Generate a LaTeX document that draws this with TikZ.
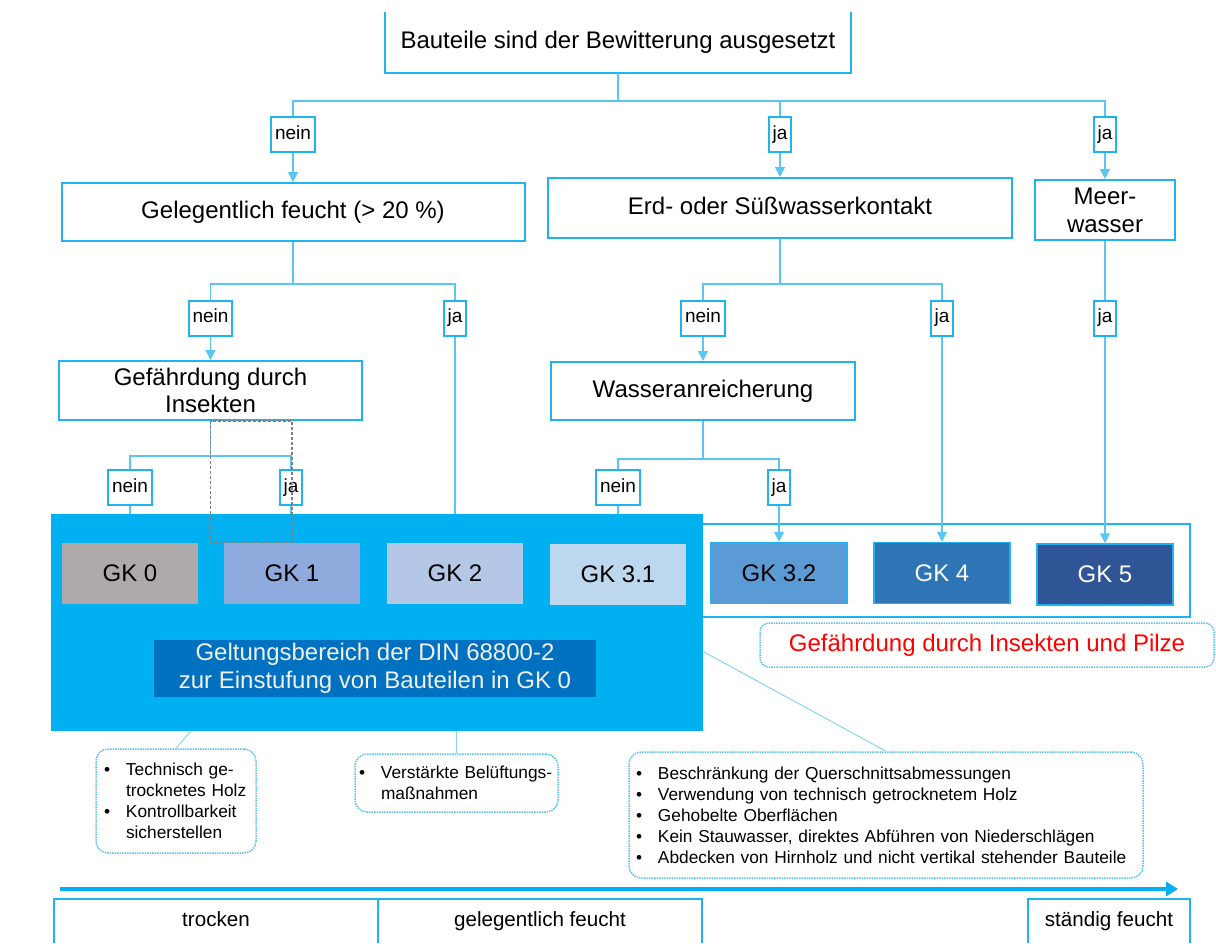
\documentclass[tikz,border=0pt]{standalone}
\usepackage{fontspec}
\setmainfont{Liberation Sans}
\usetikzlibrary{arrows.meta}

\definecolor{boxcyan}{HTML}{1FB4F0}
\definecolor{conncyan}{HTML}{5CC6F2}
\definecolor{notecyan}{HTML}{5BC0EB}
\definecolor{scopeblue}{HTML}{00B0F0}
\definecolor{geltblue}{HTML}{0070C0}
\definecolor{gkA}{HTML}{AEAAAA}
\definecolor{gkB}{HTML}{8FAADC}
\definecolor{gkC}{HTML}{B4C7E7}
\definecolor{gkD}{HTML}{BDD7EE}
\definecolor{gkE}{HTML}{5B9BD5}
\definecolor{gkF}{HTML}{2E75B6}
\definecolor{gkG}{HTML}{2F5597}

\newcommand{\pkt}{\makebox[22pt][l]{\textbullet}}
\newcommand{\weiter}{\hspace*{22pt}}

\begin{document}
\begin{tikzpicture}[x=1pt, y=-1pt, every node/.style={inner sep=0pt},
  zeile/.style={text height=17.3pt, text depth=5pt},
  frage/.style={draw=boxcyan, line width=2pt, fill=white, align=center, font=\fontsize{24}{28}\selectfont},
  antw/.style={draw=boxcyan, line width=2pt, fill=white, inner xsep=4pt, minimum height=35pt,
    text height=13.7pt, text depth=4pt, font=\fontsize{19}{22}\selectfont},
  gk/.style={minimum width=136pt, minimum height=61pt, font=\fontsize{24}{28}\selectfont},
  conn/.style={draw=conncyan, line width=1.5pt},
  arr/.style={conn, -{Triangle[length=10pt, width=10pt]}},
  notiz/.style={draw=notecyan, line width=1.5pt, densely dotted, rounded corners=12pt, align=left, font=\fontsize{17.3}{21}\selectfont},
  skala/.style={minimum height=44pt, text height=14.8pt, text depth=4.3pt, font=\fontsize{20.6}{24}\selectfont}]
\useasboundingbox (0,0) rectangle (1216,943);

% Gefaehrdungsklassen
\node[draw=boxcyan, line width=2pt, minimum width=550pt, minimum height=93pt] (pilz) at (915,570.5) {};
\node[fill=scopeblue, minimum width=652pt, minimum height=217pt] (din) at (377,622.5) {};
\node[gk, fill=gkA] (gk0) at (130,573) {GK 0};
\node[gk, fill=gkB] (gk1) at (292,573) {GK 1};
\node[gk, fill=gkC] (gk2) at (455,573) {GK 2};
\node[gk, fill=gkD] (gk31) at (618,574.5) {GK 3.1};
\node[gk, fill=gkE, draw=boxcyan, line width=1.5pt] (gk32) at (779,573) {GK 3.2};
\node[gk, fill=gkF, draw=boxcyan, line width=1.5pt, text=white] (gk4) at (942,573) {GK 4};
\node[gk, fill=gkG, draw=boxcyan, line width=1.5pt, text=white] (gk5) at (1105,574.5) {GK 5};
\node[fill=geltblue, text=white!88!gray, minimum width=442pt, minimum height=57pt, align=center,
  font=\fontsize{24}{28}\selectfont] (geltung) at (375,668.5)
  {Geltungsbereich der DIN 68800-2\\zur Einstufung von Bauteilen in GK 0};
\node[draw=notecyan, line width=1.5pt, densely dotted, rounded corners=9pt, minimum width=454pt,
  minimum height=44pt, zeile, text=red, font=\fontsize{24}{28}\selectfont] (insekten) at (987,645)
  {Gef\"ahrdung durch Insekten und Pilze};

% Entscheidungen
\node[frage, zeile, draw=none, fill=none, minimum width=464pt, minimum height=59pt] (wetter) at (618,42.5)
  {Bauteile sind der Bewitterung ausgesetzt};
\draw[draw=boxcyan, line width=2pt] (wetter.north west) |- (wetter.south east) -- (wetter.north east);
\node[frage, zeile, minimum width=463pt, minimum height=58pt] (gel) at (293,212) {Gelegentlich feucht (> 20 \%)};
\node[frage, zeile, minimum width=464pt, minimum height=60pt] (erd) at (780,208) {Erd- oder S\"u\ss wasserkontakt};
\node[frage, minimum width=140pt, minimum height=60pt] (meer) at (1105,210) {Meer-\\wasser};
\node[frage, minimum width=303pt, minimum height=59pt, font=\fontsize{24}{27}\selectfont] (gef) at (210.5,390.5)
  {Gef\"ahrdung durch\\Insekten};
\node[frage, zeile, minimum width=304pt, minimum height=58pt] (wasser) at (703,391) {Wasseranreicherung};

% Antworten
\node[antw] (a1) at (293,134.5) {nein};
\node[antw] (a2) at (780,134.5) {ja};
\node[antw] (a3) at (1105,134.5) {ja};
\node[antw] (b1) at (210.5,318) {nein};
\node[antw] (b2) at (455,318) {ja};
\node[antw] (b3) at (703,318) {nein};
\node[antw] (b4) at (942,318) {ja};
\node[antw] (b5) at (1105,318) {ja};
\node[antw] (c1) at (130,487.5) {nein};
\node[antw] (c2) at (291,487.5) {ja};
\node[antw] (c3) at (618,487.5) {nein};
\node[antw] (c4) at (779,487.5) {ja};

\draw[conn] (wetter.south) -- ++(0,28) -| (a1.north);
\draw[conn] (wetter.south) -- ++(0,28) -| (a2.north);
\draw[conn] (wetter.south) -- ++(0,28) -| (a3.north);
\draw[arr] (a1.south) -- (gel.north);
\draw[arr] (a2.south) -- (erd.north);
\draw[arr] (a3.south) -- (meer.north);
\draw[conn] (gel.south) -- ++(0,42) -| (b1.north);
\draw[conn] (gel.south) -- ++(0,42) -| (b2.north);
\draw[conn] (erd.south) -- ++(0,45) -| (b3.north);
\draw[conn] (erd.south) -- ++(0,45) -| (b4.north);
\draw[conn] (meer.south) -- (b5.north);
\draw[arr] (b1.south) -- (gef.north);
\draw[conn] (b2.south) -- (b2.south |- din.north);
\draw[arr] (b3.south) -- (wasser.north);
\draw[arr] (b4.south) -- (gk4.north);
\draw[arr] (b5.south) -- (gk5.north);
\draw[conn] (gef.south) -- ++(0,35) -| (c1.north);
\draw[conn] (gef.south) -- ++(0,35) -| (c2.north);
\draw[conn] (wasser.south) -- ++(0,38) -| (c3.north);
\draw[conn] (wasser.south) -- ++(0,38) -| (c4.north);
\draw[conn] (c1.south) -- (c1.south |- din.north);
\draw[conn] (c2.south) -- (c2.south |- din.north);
\draw[conn] (c3.south) -- (c3.south |- din.north);
\draw[arr] (c4.south) -- (gk32.north);
\draw[gray, densely dashed, line width=1.2pt] (gef.south) rectangle (gk1.north);

% Massnahmen
\node[notiz, text width=144pt, inner xsep=8pt, minimum height=104pt] (notizA) at (176,801)
  {\pkt Technisch ge-\\\weiter trocknetes Holz\\\pkt Kontrollbarkeit\\\weiter sicherstellen};
\node[notiz, text width=195pt, inner xsep=4pt, minimum height=58pt] (notizB) at (456.5,783)
  {\pkt Verst\"arkte Bel\"uftungs-\\\weiter ma\ss nahmen};
\node[notiz, text width=500pt, inner xsep=7pt, minimum height=126pt] (notizC) at (886,815)
  {\pkt Beschr\"ankung der Querschnittsabmessungen\\
   \pkt Verwendung von technisch getrocknetem Holz\\
   \pkt Gehobelte Oberfl\"achen\\
   \pkt Kein Stauwasser, direktes Abf\"uhren von Niederschl\"agen\\
   \pkt Abdecken von Hirnholz und nicht vertikal stehender Bauteile};
\coordinate (dinA) at (191,731);
\coordinate (dinC) at (704,652);
\draw[notecyan!70, line width=1pt] (notizA.north) -- (dinA);
\draw[notecyan!70, line width=1pt] (notizB.north) -- (notizB.north |- din.south);
\draw[notecyan!70, line width=1pt] (notizC.north) -- (dinC);

% Feuchteskala
\coordinate (pfA) at (60,889);
\coordinate (pfB) at (1178,889);
\draw[scopeblue, line width=4pt, -{Triangle[length=12pt, width=14pt]}] (pfA) -- (pfB);
\node[skala, minimum width=324pt] (trocken) at (216,921) {trocken};
\node[skala, minimum width=324pt] (gelfeucht) at (540,921) {gelegentlich feucht};
\node[skala, minimum width=162pt] (staendig) at (1109,921) {st\"andig feucht};
\draw[boxcyan, line width=2pt] (trocken.south west) |- (trocken.north east) -- (trocken.south east);
\draw[boxcyan, line width=2pt] (gelfeucht.south west) |- (gelfeucht.north east) -- (gelfeucht.south east);
\draw[boxcyan, line width=2pt] (staendig.south west) |- (staendig.north east) -- (staendig.south east);
\end{tikzpicture}
\end{document}
